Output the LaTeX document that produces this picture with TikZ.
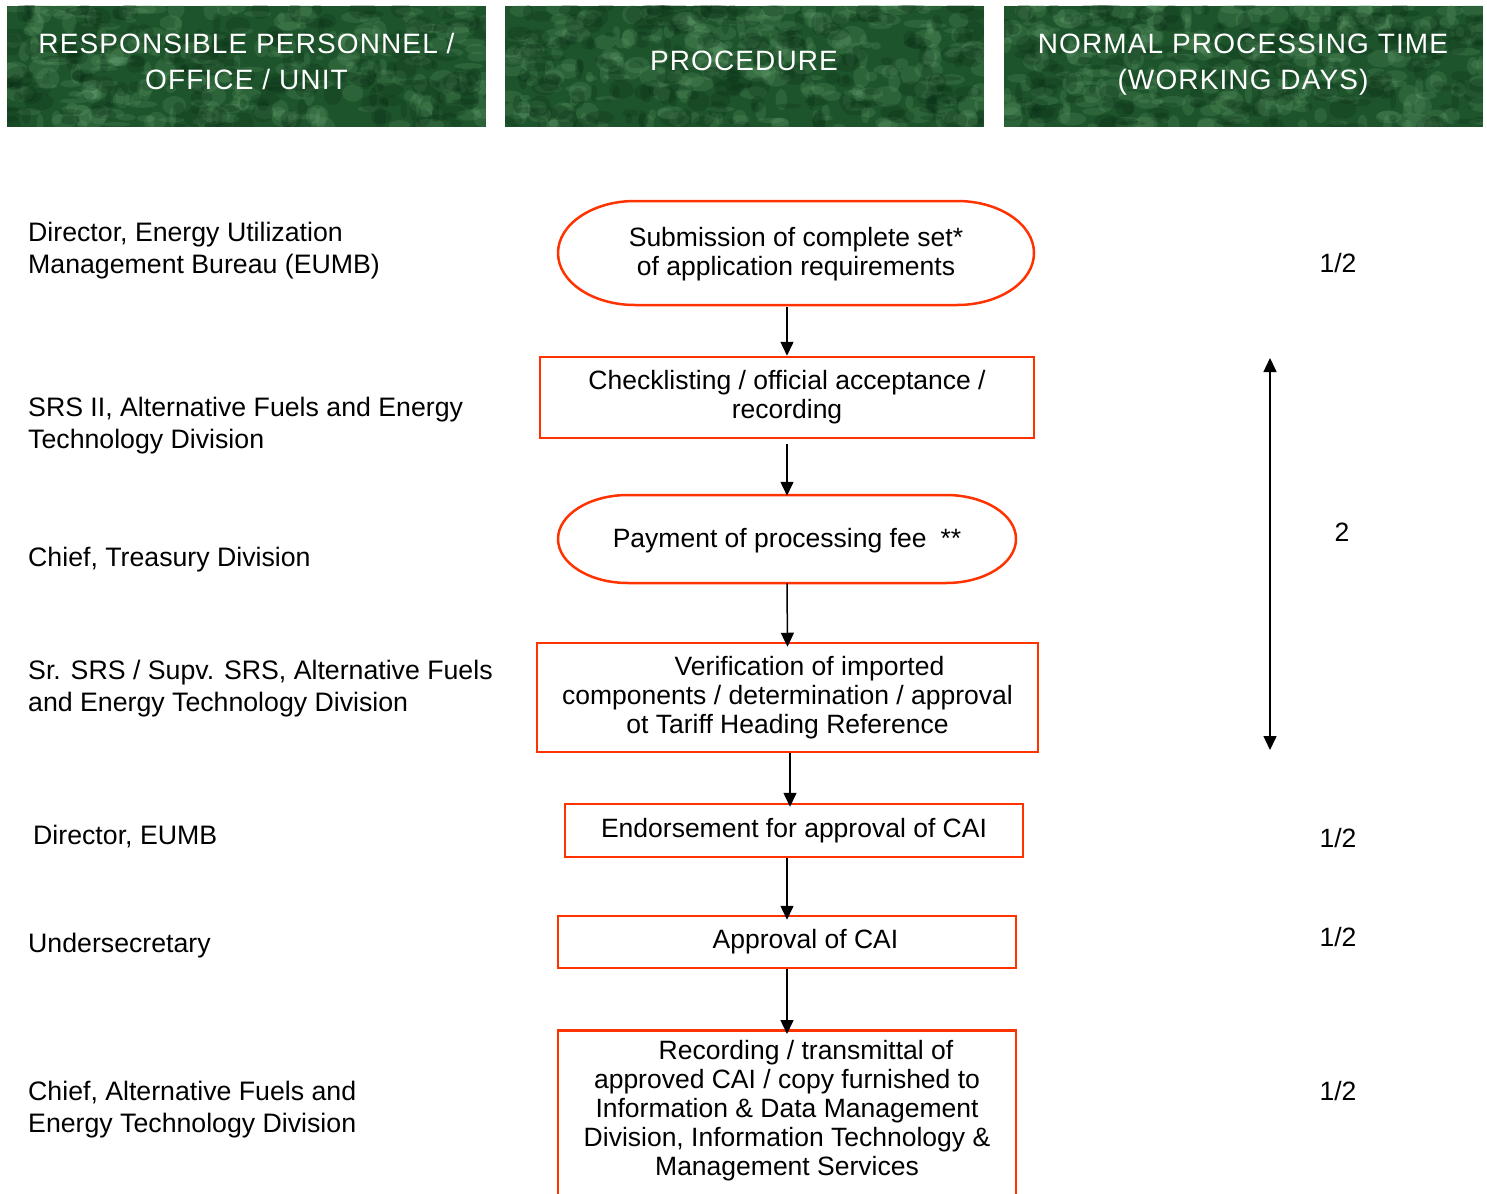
\documentclass[tikz,border=0pt]{standalone}
\usepackage{fontspec}
\setmainfont{Liberation Sans}
\usetikzlibrary{arrows.meta}
\definecolor{boxred}{RGB}{255,51,0}
\definecolor{hdrbase}{RGB}{30,84,44}
\definecolor{hdrlight}{RGB}{120,180,130}
\definecolor{hdrdark}{RGB}{6,40,18}
\newcommand{\bodyfs}{\fontsize{26.5}{29}\selectfont}
\newcommand{\leftfs}{\fontsize{26.7}{32}\selectfont}
\newcommand{\hdrfs}{\fontsize{28}{36}\selectfont\addfontfeatures{LetterSpace=4}}
\begin{document}
\begin{tikzpicture}[x=1pt,y=-1pt,
  procbox/.style={draw=boxred, line width=2.5pt, rectangle, inner sep=0pt, align=center, font=\bodyfs},
  roletext/.style={anchor=west, align=left, font=\leftfs, inner sep=0pt},
  daytext/.style={font=\bodyfs, inner sep=0pt},
  hdrtext/.style={text=white, align=center, font=\hdrfs, inner sep=0pt},
  arr/.style={line width=1.5pt, -{Triangle[length=14pt,width=13pt]}},
  darr/.style={line width=1.5pt, {Triangle[length=14pt,width=13pt]}-{Triangle[length=14pt,width=13pt]}}
]
\useasboundingbox (0,0) rectangle (1487,1193);
\begin{scope}
\clip (0,0) rectangle (1487,1193);
% header textures
\pgfmathsetseed{4242}
\foreach \bx in {7,505,1004} {
  \begin{scope}
    \clip (\bx,6) rectangle ++(479,121);
    \fill[hdrbase] (\bx,6) rectangle ++(479,121);
    \foreach \i in {1,...,260} {
      \pgfmathsetmacro\cx{\bx+rnd*479}
      \pgfmathsetmacro\cy{6+rnd*121}
      \pgfmathsetmacro\ra{3+rnd*12}
      \pgfmathsetmacro\rb{2+rnd*9}
      \fill[hdrlight, opacity=0.16] (\cx,\cy) ellipse [x radius=\ra, y radius=\rb];
    }
    \foreach \i in {1,...,200} {
      \pgfmathsetmacro\cx{\bx+rnd*479}
      \pgfmathsetmacro\cy{6+rnd*121}
      \pgfmathsetmacro\ra{3+rnd*12}
      \pgfmathsetmacro\rb{2+rnd*9}
      \fill[hdrdark, opacity=0.22] (\cx,\cy) ellipse [x radius=\ra, y radius=\rb];
    }
  \end{scope}
}
\node[hdrtext] (h1) at (246.5,61) {RESPONSIBLE PERSONNEL /\\OFFICE / UNIT};
\node[hdrtext] (h2) at (744,61) {PROCEDURE};
\node[hdrtext] (h3) at (1243,65) {NORMAL PROCESSING TIME\\(WORKING DAYS)};

% role texts
\node[roletext] (r1) at (28,251) {Director, Energy Utilization\\Management Bureau (EUMB)};
\node[roletext] (r2) at (28,426) {SRS II, Alternative Fuels and Energy\\Technology Division};
\node[roletext] (r3) at (28,560) {Chief, Treasury Division};
\node[roletext] (r4) at (28,689) {Sr. SRS / Supv. SRS, Alternative Fuels\\and Energy Technology Division};
\node[roletext] (r5) at (33,837) {Director, EUMB};
\node[roletext] (r6) at (28,946) {Undersecretary};
\node[roletext] (r7) at (28,1110) {Chief, Alternative Fuels and\\Energy Technology Division};

% procedure shapes
\node[procbox, draw=none, minimum width=476pt, minimum height=104pt] (b1) at (796,254) {Submission of complete set*\\of application requirements};
\draw[boxred, line width=2.5pt] (635,201) -- (957,201) arc[start angle=-90, end angle=90, x radius=77, y radius=52] -- (635,305) arc[start angle=90, end angle=270, x radius=77, y radius=52] -- cycle;

\node[procbox, minimum width=494pt, minimum height=81pt] (b2) at (787,397.5) {Checklisting / official acceptance /\\recording};

\node[procbox, draw=none, minimum width=458pt, minimum height=88pt] (b3) at (787,541) {Payment of processing fee\hspace{14pt}**};
\draw[boxred, line width=2.5pt] (628,495) -- (946,495) arc[start angle=-90, end angle=90, x radius=70, y radius=44] -- (628,583) arc[start angle=90, end angle=270, x radius=70, y radius=44] -- cycle;

\node[procbox, minimum width=501pt, minimum height=109pt] (b4) at (787.5,697.5) {\hspace*{44pt}Verification of imported\\components / determination / approval\\ot Tariff Heading Reference};

\node[procbox, minimum width=458pt, minimum height=53pt] (b5) at (794,830.5) {Endorsement for approval of CAI};

\node[procbox, minimum width=458pt, minimum height=52pt] (b6) at (787,942) {\hspace*{37pt}Approval of CAI};

\node[procbox, anchor=north, minimum width=458pt, minimum height=175pt, inner ysep=7pt] (b7) at (787,1029) {\hspace*{38pt}Recording / transmittal of\\approved CAI / copy furnished to\\Information \& Data Management\\Division, Information Technology \&\\Management Services\\[-10pt]\mbox{}};

% connectors
\draw[arr] (b2.north |- b1.south) -- (b2.north);
\draw[arr] ([yshift=-5pt]b2.south) -- (b3.north);
\draw[arr] ([yshift=3pt]b3.south) -- ([yshift=-5pt]b4.north);
\draw[arr] ([xshift=2.5pt]b4.south) -- ([xshift=2.5pt,yshift=-4pt]b4.south |- b5.north);
\draw[arr] (b6.north |- b5.south) -- ([yshift=-5pt]b6.north);
\draw[arr] (b6.south) -- ([yshift=-5pt]b7.north);

\coordinate (d1) at (1270,358);
\coordinate (d2) at (1270,750);
\draw[darr] (d1) -- (d2);

% days
\node[daytext] (t1) at (1338,263) {1/2};
\node[daytext] (t2) at (1342,532) {2};
\node[daytext] (t3) at (1338,838) {1/2};
\node[daytext] (t4) at (1338,937) {1/2};
\node[daytext] (t5) at (1338,1091) {1/2};
\end{scope}
\end{tikzpicture}
\end{document}
